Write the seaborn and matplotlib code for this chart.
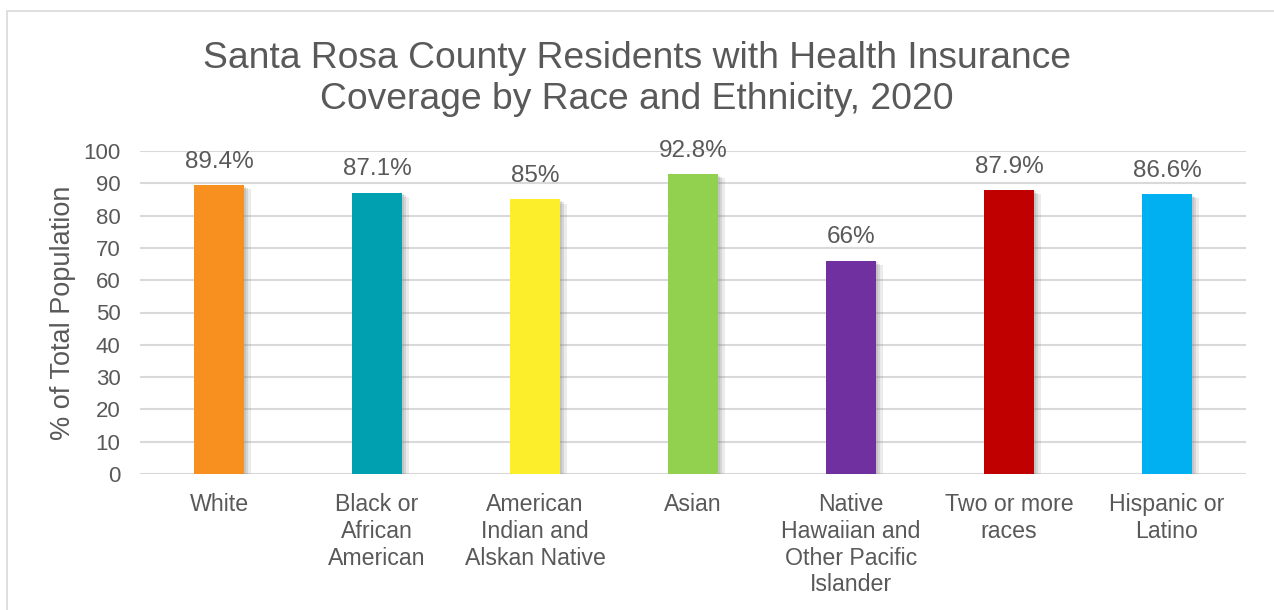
import matplotlib
matplotlib.use("Agg")
import matplotlib.pyplot as plt
import matplotlib.patheffects as pe
from matplotlib.patches import Rectangle
import seaborn as sns
import pandas as pd

categories = [
    "White",
    "Black or\nAfrican\nAmerican",
    "American\nIndian and\nAlskan Native",
    "Asian",
    "Native\nHawaiian and\nOther Pacific\nIslander",
    "Two or more\nraces",
    "Hispanic or\nLatino",
]
coverage = [89.4, 87.1, 85, 92.8, 66, 87.9, 86.6]
bar_colors = ["#F7901E", "#00A0B0", "#FCEE2B", "#92D050", "#7030A0", "#C00000", "#00B0F0"]
y_ticks = [0, 10, 20, 30, 40, 50, 60, 70, 80, 90, 100]

sns.set_theme(style="white")
plt.rcParams["font.family"] = ["Liberation Sans", "DejaVu Sans"]

text_color = "#595959"
grid_color = "#D9D9D9"

df = pd.DataFrame({"group": categories, "pct": coverage})

fig = plt.figure(figsize=(12.74, 6.10), dpi=100)
fig.patch.set_facecolor("white")
# outer chart frame
fig.patches.append(Rectangle((7 / 1274, -0.01), 1.0, 1 - 11 / 610 + 0.01,
                             transform=fig.transFigure, fill=False,
                             edgecolor="#D9D9D9", linewidth=1.2))

ax = fig.add_axes([140 / 1274, 1 - 474 / 610, (1246 - 140) / 1274, (474 - 151) / 610])

sns.barplot(data=df, x="group", y="pct", hue="group", palette=bar_colors,
            width=0.316, legend=False, ax=ax, zorder=3, saturation=1)

for bar in ax.patches:
    bar.set_path_effects([
        pe.SimplePatchShadow(offset=(5, -3), shadow_rgbFace="#7F7F7F", alpha=0.15),
        pe.SimplePatchShadow(offset=(3, -2), shadow_rgbFace="#7F7F7F", alpha=0.2),
        pe.SimplePatchShadow(offset=(1.5, -1), shadow_rgbFace="#7F7F7F", alpha=0.2),
        pe.Normal(),
    ])
    bar.set_linewidth(0)

for i, v in enumerate(coverage):
    ax.annotate(f"{v:g}%", xy=(i, v), xytext=(0, 9), textcoords="offset points",
                ha="center", va="bottom", fontsize=17.5, color=text_color)

ax.set_ylim(0, 100)
ax.set_xlim(-0.5, len(categories) - 0.5)
ax.set_yticks(y_ticks)
ax.yaxis.grid(True, color=grid_color, linewidth=1.5, zorder=0)
ax.set_axisbelow(True)
for s in ax.spines.values():
    s.set_visible(False)

ax.tick_params(axis="y", labelsize=16, labelcolor=text_color, length=0, pad=14)
ax.tick_params(axis="x", labelsize=16.7, labelcolor=text_color, length=0, pad=14)
for lbl in ax.get_xticklabels():
    lbl.set_linespacing(1.2)
ax.set_xlabel("")
ax.set_ylabel("% of Total Population", fontsize=19.5, color=text_color, labelpad=5)

fig.text(0.5, 1 - 79 / 610, "Santa Rosa County Residents with Health Insurance\nCoverage by Race and Ethnicity, 2020",
         ha="center", va="center", fontsize=26.8, color=text_color, linespacing=1.25)

fig.savefig("out.png", dpi=100, facecolor="white")
